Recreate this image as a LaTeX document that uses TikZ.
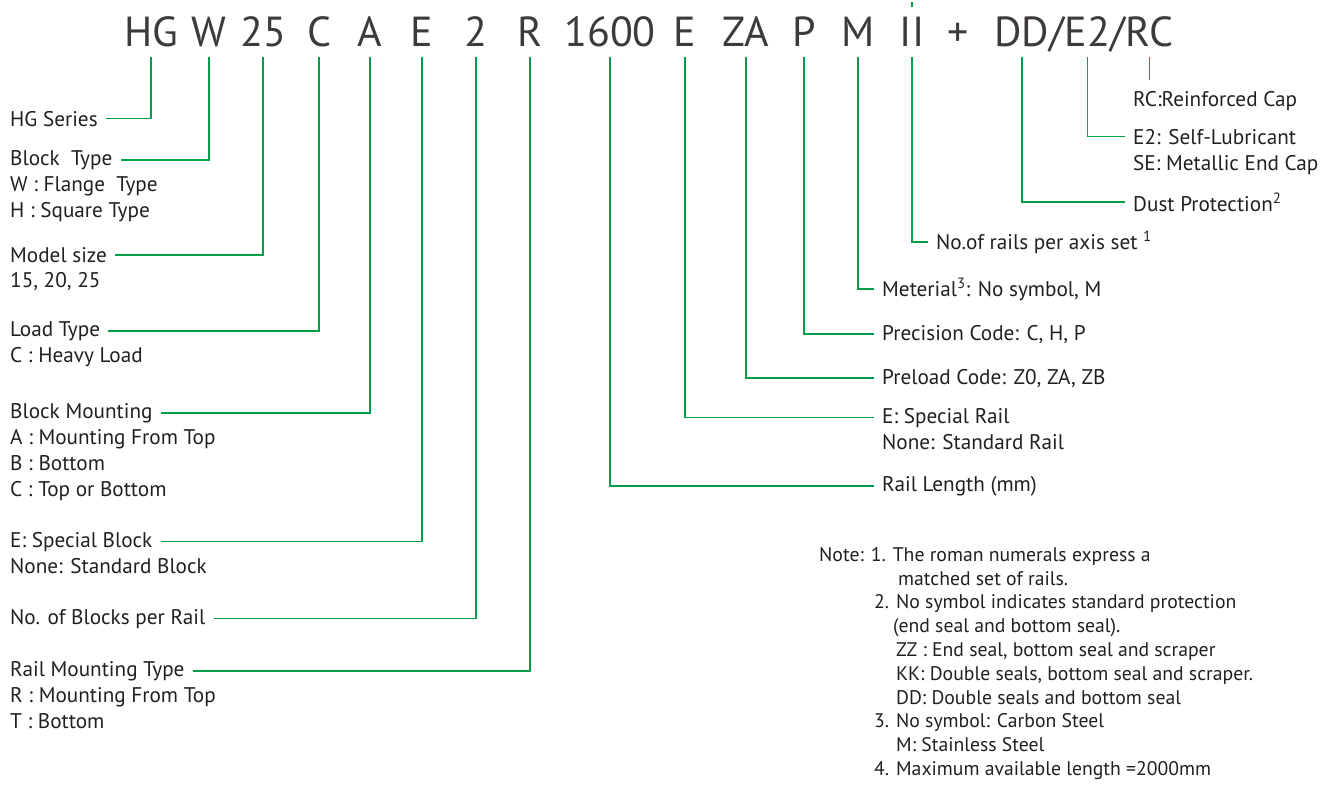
\documentclass[tikz,border=0pt]{standalone}
\usepackage{fontspec}
\setmainfont{PT Sans}
\usetikzlibrary{positioning}

\definecolor{hgreen}{RGB}{0,160,75}
\definecolor{ink}{RGB}{35,31,32}
\definecolor{codeink}{RGB}{62,58,57}

\tikzset{
	code/.style={font=\fontsize{42}{42}\selectfont, text=codeink, inner xsep=0pt, inner ysep=10pt, text depth=0pt, anchor=base},
	lbl/.style={font=\fontsize{21.2}{26}\selectfont, text=ink, inner xsep=8pt, inner ysep=2pt, anchor=base west, align=left},
	lead/.style={draw=hgreen, line width=1.8pt},
}

\begin{document}
\begin{tikzpicture}[x=1pt,y=-1pt]
	\useasboundingbox (0,0) rectangle (1332,784);

	% ordering code
	\node[code] (cHG) at (151,47) {HG};
	\node[code] (cW) at (209,47) {W};
	\node[code] (c25) at (263,47) {25};
	\node[code] (cC) at (319,47) {C};
	\node[code] (cA) at (370,47) {A};
	\node[code] (cEb) at (422,47) {E};
	\node[code] (c2) at (476,47) {2};
	\node[code] (cR) at (530,47) {R};
	\node[code] (c1600) at (610,47) {1600};
	\node[code] (cEr) at (685,47) {E};
	\node[code] (cZA) at (746,47) {ZA};
	\node[code] (cP) at (804,47) {P};
	\node[code] (cM) at (858,47) {M};
	\node[code] (cII) at (912,47) {II};
	\node[code] (cplus) at (958,47) {+};
	\node[code, anchor=base west] (cDD) at (994,47) {DD};
	\node[code, base right=0pt of cDD] (cs1) {/};
	\node[code, base right=0pt of cs1] (cE2) {E2};
	\node[code, base right=0pt of cE2] (cs2) {/};
	\node[code, base right=0pt of cs2] (cRC) {RC};

	% left side (multi-line nodes sit on their last line)
	\node[lbl] (tHG) at (2,126) {HG Series};
	\node[lbl] (tW) at (2,165) {Block~~Type};
	\node[lbl] (oW) at (2,217) {W : Flange~~Type\\H : Square Type};
	\node[lbl] (tSize) at (2,262) {Model size};
	\node[lbl] (oSize) at (2,287) {15, 20, 25};
	\node[lbl] (tLoad) at (2,336) {Load Type};
	\node[lbl] (oLoad) at (2,362) {C : Heavy Load};
	\node[lbl] (tMount) at (2,418) {Block Mounting};
	\node[lbl] (oMount) at (2,496) {A : Mounting From Top\\B : Bottom\\C : Top or Bottom};
	\node[lbl] (tBlk) at (2,547) {E: Special Block};
	\node[lbl] (oBlk) at (2,573) {None: Standard Block};
	\node[lbl] (tNum) at (2,624) {No. of Blocks per Rail};
	\node[lbl] (tRail) at (2,676) {Rail Mounting Type};
	\node[lbl] (oRail) at (2,728) {R : Mounting From Top\\T : Bottom};

	% right side
	\node[lbl] (tRC) at (1125,106) {RC:Reinforced Cap};
	\node[lbl] (tE2) at (1125,144) {E2: Self-Lubricant};
	\node[lbl] (oE2) at (1125,170) {SE: Metallic End Cap};
	\node[lbl] (tDD) at (1125,211) {Dust Protection\textsuperscript{2}};
	\node[lbl] (tII) at (928,249) {No.of rails per axis set \textsuperscript{1}};
	\node[lbl] (tM) at (874,296) {Meterial\textsuperscript{3}: No symbol, M};
	\node[lbl] (tP) at (874,340) {Precision Code: C, H, P};
	\node[lbl] (tZA) at (874,384) {Preload Code: Z0, ZA, ZB};
	\node[lbl] (tEr) at (874,423) {E: Special Rail};
	\node[lbl] (oEr) at (874,449) {None: Standard Rail};
	\node[lbl] (tLen) at (874,491) {Rail Length (mm)};

	\node[lbl, anchor=north west, font=\fontsize{19.7}{23.8}\selectfont] (note) at (811,545) {Note: 1. The roman numerals express a\\
		\hspace*{79pt}matched set of rails.\\
		\hspace*{55pt}2. No symbol indicates standard protection\\
		\hspace*{74pt}(end seal and bottom seal).\\
		\hspace*{77pt}ZZ : End seal, bottom seal and scraper\\
		\hspace*{77pt}KK: Double seals, bottom seal and scraper.\\
		\hspace*{77pt}DD: Double seals and bottom seal\\
		\hspace*{55pt}3. No symbol: Carbon Steel\\
		\hspace*{77pt}M: Stainless Steel\\
		\hspace*{55pt}4. Maximum available length =2000mm};

	% leaders
	\draw[lead] (cHG.south) |- (tHG.east);
	\draw[lead] (cW.south) |- (tW.east);
	\draw[lead] (c25.south) |- (tSize.east);
	\draw[lead] (cC.south) |- (tLoad.east);
	\draw[lead] (cA.south) |- (tMount.east);
	\draw[lead] (cEb.south) |- (tBlk.east);
	\draw[lead] (c2.south) |- (tNum.east);
	\draw[lead] (cR.south) |- (tRail.east);
	\draw[lead] (c1600.south) |- (tLen.west);
	\draw[lead] (cEr.south) |- (tEr.west);
	\draw[lead] (cZA.south) |- (tZA.west);
	\draw[lead] (cP.south) |- (tP.west);
	\draw[lead] (cM.south) |- (tM.west);
	\draw[lead] (cII.south) |- (tII.west);
	\draw[lead] (cII.north) -- ++(0,-5);
	\draw[lead] (cDD.south) |- (tDD.west);
	\draw[lead] (cE2.south) |- (tE2.west);
	\draw[lead] (cRC.south) -- ([yshift=9pt]tRC.north -| cRC.south);
\end{tikzpicture}
\end{document}
